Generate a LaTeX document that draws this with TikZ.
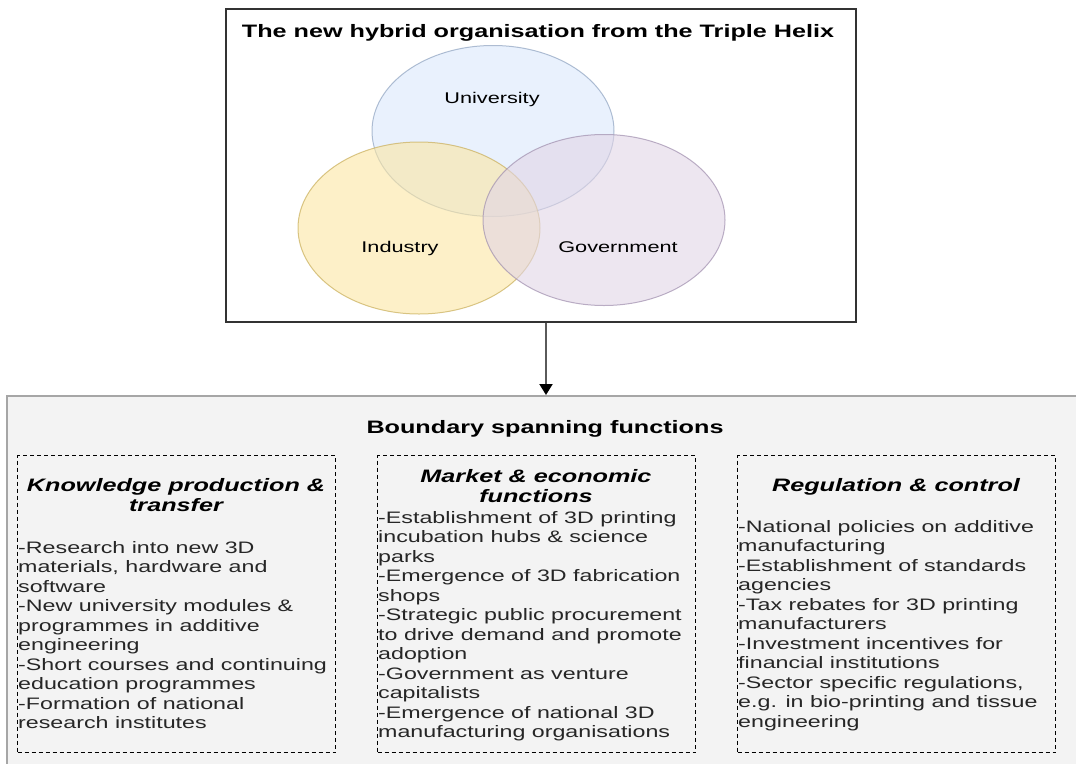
\documentclass[tikz,border=0pt]{standalone}
\usepackage{fontspec}
\setmainfont{Liberation Sans}[FakeStretch=1.4]
\usetikzlibrary{shapes.geometric,arrows.meta}
\definecolor{uniF}{HTML}{DAE8FC}
\definecolor{uniD}{HTML}{8FA3C0}
\definecolor{indF}{HTML}{FBE6A3}
\definecolor{indD}{HTML}{C9AE5A}
\definecolor{govF}{HTML}{E1D5E6}
\definecolor{govD}{HTML}{A08FAE}
\definecolor{bsfF}{HTML}{F3F3F3}
\definecolor{bsfD}{HTML}{A6A6A6}
\definecolor{arrowC}{HTML}{5A5A5A}
\newcommand\leftlines[1]{\vtop{\halign{##\hfil\cr#1\crcr}}}
\newcommand\ctrlines[1]{\vtop{\halign{\hfil##\hfil\cr#1\crcr}}}
\tikzset{
  venn/.style={ellipse, inner sep=0pt, fill opacity=0.6, draw opacity=0.7, line width=1pt},
  vennlabel/.style={anchor=base, inner sep=0pt, font=\fontsize{15.5}{18}\selectfont},
  dashbox/.style={draw=black, dash pattern=on 4pt off 3pt, line width=1.2pt, anchor=north west, inner sep=0pt, minimum width=318pt, minimum height=297pt},
  coltitle/.style={anchor=base, inner sep=0pt, font=\fontsize{18}{20.5}\selectfont\bfseries\itshape},
  colbody/.style={anchor=base west, inner sep=0pt, text=black!85, font=\fontsize{16.6}{19.5}\selectfont},
  headtitle/.style={anchor=base, inner sep=0pt, font=\fontsize{18}{21}\selectfont\bfseries},
}
\begin{document}
\begin{tikzpicture}[x=1pt,y=-1pt]
\useasboundingbox (0,0) rectangle (1076,763);
\begin{scope}
\clip (0,0) rectangle (1076,763);
% bottom box
\node[draw=bsfD, fill=bsfF, line width=1.5pt, anchor=north west, inner sep=0pt, minimum width=1100pt, minimum height=400pt] (bsf) at (6,395) {};
\end{scope}
% top box
\node[draw=black!80, line width=1.5pt, anchor=north west, inner sep=0pt, minimum width=630pt, minimum height=313pt] (hybrid) at (225,8) {};
\node[headtitle] (hybridtitle) at (538,37) {The new hybrid organisation from the Triple Helix};
% venn
\node[venn, fill=uniF, draw=uniD, minimum width=242pt, minimum height=171pt] (uni) at (493,131) {};
\node[venn, fill=indF, draw=indD, minimum width=242pt, minimum height=172pt] (ind) at (419,228) {};
\node[venn, fill=govF, draw=govD, minimum width=242pt, minimum height=171pt] (gov) at (604,220) {};
\node[vennlabel] (unilabel) at (492,103) {University};
\node[vennlabel] (indlabel) at (400,252) {Industry};
\node[vennlabel] (govlabel) at (618,252) {Government};
% arrow
\coordinate (ax) at (546,0);
\draw[arrowC, line width=2pt, -{Triangle[length=11pt,width=13pt,color=black]}] (hybrid.south -| ax) -- (bsf.north -| ax);
% bottom title
\node[headtitle] (bsftitle) at (545,433) {Boundary spanning functions};
% columns
\node[dashbox] (kp) at (17,455) {};
\node[dashbox] (me) at (377,455) {};
\node[dashbox] (rc) at (737,455) {};
\node[coltitle] (kptitle) at (176,491) {\ctrlines{Knowledge production \&\cr transfer}};
\node[coltitle] (metitle) at (536,482) {\ctrlines{Market \& economic\cr functions}};
\node[coltitle] (rctitle) at (896,491) {\ctrlines{Regulation \& control}};
\node[colbody] (kpbody) at (18,553) {\leftlines{-Research into new 3D\cr materials, hardware and\cr software\cr -New university modules \&\cr programmes in additive\cr engineering\cr -Short courses and continuing\cr education programmes\cr -Formation of national\cr research institutes}};
\node[colbody] (mebody) at (378,523) {\leftlines{-Establishment of 3D printing\cr incubation hubs \& science\cr parks\cr -Emergence of 3D fabrication\cr shops\cr -Strategic public procurement\cr to drive demand and promote\cr adoption\cr -Government as venture\cr capitalists\cr -Emergence of national 3D\cr manufacturing organisations}};
\node[colbody] (rcbody) at (738,532) {\leftlines{-National policies on additive\cr manufacturing\cr -Establishment of standards\cr agencies\cr -Tax rebates for 3D printing\cr manufacturers\cr -Investment incentives for\cr financial institutions\cr -Sector specific regulations,\cr e.g. in bio-printing and tissue\cr engineering}};
\end{tikzpicture}
\end{document}
